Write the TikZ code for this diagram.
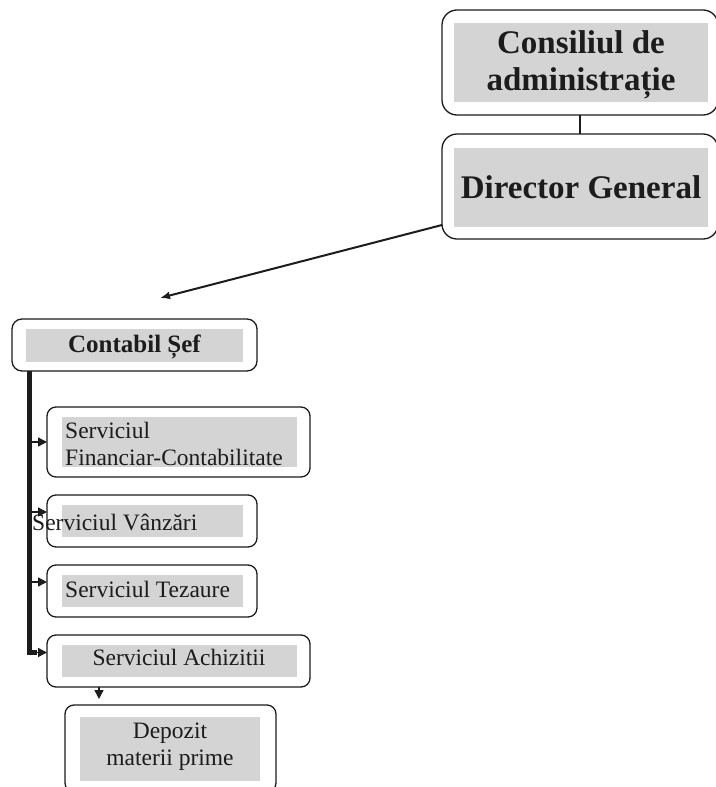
\documentclass[tikz,border=0pt]{standalone}
\usepackage{fontspec}
\setmainfont{Liberation Serif}
\usetikzlibrary{arrows.meta,calc}
\definecolor{panel}{RGB}{212,212,212}
\definecolor{ink}{RGB}{28,28,28}

\begin{document}
\begin{tikzpicture}[x=1pt,y=-1pt,
  frame/.style={draw=ink, line width=1.3pt, rounded corners=#1, fill=white,
    inner sep=0pt, outer sep=0pt, anchor=north west},
  frame/.default=9pt,
  panelbox/.style={fill=panel, draw=none, inner sep=0pt, anchor=north west},
  bigtext/.style={font=\bfseries\fontsize{33}{37}\selectfont, text=ink, inner sep=0pt, align=center},
  midtext/.style={font=\bfseries\fontsize{25}{29}\selectfont, text=ink, inner sep=0pt},
  smalltext/.style={font=\fontsize{23.5}{27}\selectfont, text=ink, inner sep=0pt},
  link/.style={draw=ink, line width=1.2pt},
  pointer/.style={draw=ink, line width=2pt, -{Latex[length=10pt,width=8pt]}},
  branch/.style={draw=ink, line width=1.4pt, -{Triangle[length=9pt,width=9pt]}},
  trunk/.style={draw=ink, line width=5pt}
]
\useasboundingbox (0,0) rectangle (715,787);

% --- board and general manager ---
\node[frame=15pt, minimum width=276pt, minimum height=105pt] (cons) at (442,10) {};
\node[panelbox, minimum width=254pt, minimum height=79pt] (consBg) at (454,23) {};
% a multi-line node's base anchor sits on its last line
\node[bigtext, anchor=base] (consTxt) at (581,90) {Consiliul de\\administrație};

\node[frame=15pt, minimum width=276pt, minimum height=105pt] (dir) at (442,134) {};
\node[panelbox, minimum width=254pt, minimum height=79pt] (dirBg) at (454,148) {};
\node[bigtext, anchor=base] (dirTxt) at (581,198) {Director General};

\draw[link] (cons.south) -- (dir.north);

% --- chief accountant ---
\coordinate (csTip) at (160,298);
\draw[pointer] ($(dir.south west)+(0,-14)$) -- (csTip);

\node[frame=10pt, minimum width=245pt, minimum height=52pt] (cs) at (12,319) {};
\node[panelbox, minimum width=217pt, minimum height=33pt] (csBg) at (26,329) {};
\node[midtext, anchor=base] (csTxt) at (134.5,352) {Contabil Șef};

% --- departments ---
\node[frame, minimum width=263pt, minimum height=70pt] (fin) at (47,407) {};
\node[panelbox, minimum width=235pt, minimum height=50pt] (finBg) at (62,417) {};
\node[smalltext, anchor=base west, align=left] (finTxt) at (65,465) {Serviciul\\Financiar-Contabilitate};

\node[frame, minimum width=210pt, minimum height=52pt] (van) at (47,495) {};
\node[panelbox, minimum width=181pt, minimum height=32pt] (vanBg) at (62,505) {};
\node[smalltext, anchor=base west] (vanTxt) at (32,530) {Serviciul Vânzări};

\node[frame, minimum width=210pt, minimum height=52pt] (tez) at (47,565) {};
\node[panelbox, minimum width=181pt, minimum height=32pt] (tezBg) at (62,575) {};
\node[smalltext, anchor=base west] (tezTxt) at (65,597) {Serviciul Tezaure};

\node[frame, minimum width=263pt, minimum height=52pt] (ach) at (47,635) {};
\node[panelbox, minimum width=235pt, minimum height=32pt] (achBg) at (62,645) {};
\node[smalltext, anchor=base] (achTxt) at (179,665) {Serviciul Achizitii};

\node[frame, minimum width=211pt, minimum height=87pt] (dep) at (65,705) {};
\node[panelbox, minimum width=180pt, minimum height=64pt] (depBg) at (80,717) {};
\node[smalltext, anchor=base, align=center] (depTxt) at (170,765) {Depozit\\materii prime};

% --- vertical trunk from the chief accountant and its branches ---
\coordinate (trunkTop) at ($(cs.south west)+(17,0)$);
\coordinate (trunkFoot) at ($(trunkTop |- ach.west)+(0,-8.5)$);
\draw[trunk] (trunkTop) -- (trunkFoot) -- ++(8,0);

\draw[branch] (trunkTop |- fin.west) -- (fin.west);
\draw[branch] ($(trunkTop |- van.west)+(0,-9)$) -- ($(van.west)+(0,-9)$);
\draw[branch] ($(trunkTop |- tez.west)+(0,-9)$) -- ($(tez.west)+(0,-9)$);
\draw[branch] (trunkFoot) -- (trunkFoot -| ach.west);

\draw[branch] ($(ach.south west)+(52,0)$) -- ($(dep.north west)+(34,-6)$);
\end{tikzpicture}
\end{document}
